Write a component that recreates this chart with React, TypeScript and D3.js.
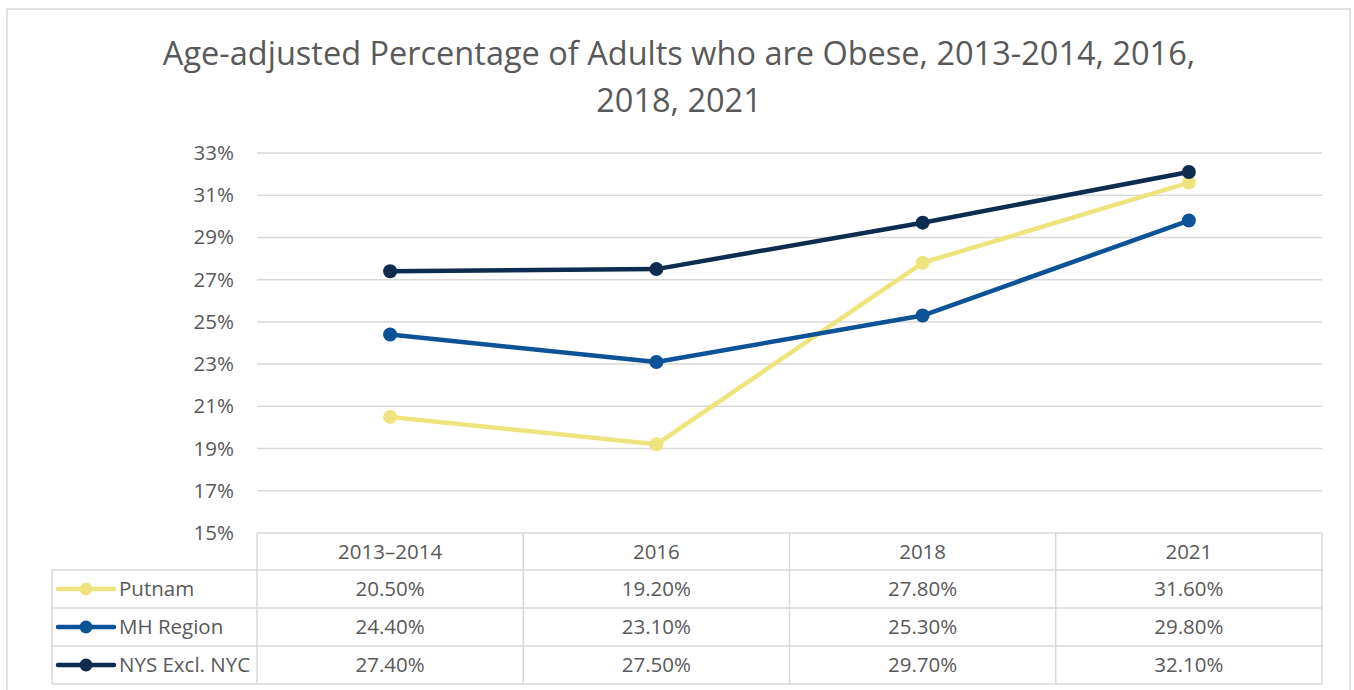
import React from "react";
import * as d3 from "d3";

const categories = ["2013–2014", "2016", "2018", "2021"];
const seriesNames = ["Putnam", "MH Region", "NYS Excl. NYC"];
const putnam = [20.5, 19.2, 27.8, 31.6];
const mhRegion = [24.4, 23.1, 25.3, 29.8];
const nysExclNyc = [27.4, 27.5, 29.7, 32.1];
const yTicks = [15, 17, 19, 21, 23, 25, 27, 29, 31, 33];
const colors = ["#EEE47E", "#0B5396", "#0E2C4F"];
const titleLines = [
  "Age-adjusted Percentage of Adults who are Obese, 2013-2014, 2016,",
  "2018, 2021",
];

const W = 1354;
const H = 690;
const FONT = "'Open Sans', sans-serif";
const TEXT = "#595959";
const GRID = "#D9D9D9";
const FS = 20.5;

export default function App() {
  const series = [putnam, mhRegion, nysExclNyc];
  const plotL = 257;
  const plotR = 1322;
  const plotT = 153;
  const plotB = 533;
  const x = d3.scaleBand<string>().domain(categories).range([plotL, plotR]);
  const cx = (c: string) => (x(c) as number) + x.bandwidth() / 2;
  const y = d3.scaleLinear().domain([15, 33]).range([plotB, plotT]);
  const line = d3
    .line<number>()
    .x((_, i) => cx(categories[i]))
    .y((d) => y(d));

  const headerB = 570;
  const rowH = 38;
  const legendL = 52;
  const fmt = d3.format(".2f");

  return (
    <svg
      width={W}
      height={H}
      style={{ position: "absolute", left: 0, top: 0, background: "#fff" }}
      fontFamily={FONT}
    >
      <rect x={7} y={9} width={1343} height={700} fill="#fff" stroke={GRID} strokeWidth={1.5} />
      {titleLines.map((t, i) => (
        <text key={i} x={679} y={65 + i * 47} textAnchor="middle" fontSize={32.5} fill={TEXT}>
          {t}
        </text>
      ))}
      {yTicks.map((t) => (
        <g key={t}>
          {t !== 15 && (
            <line x1={plotL} x2={plotR} y1={y(t)} y2={y(t)} stroke={GRID} strokeWidth={1.5} />
          )}
          <text x={234} y={y(t) + 7} textAnchor="end" fontSize={FS} fill={TEXT}>
            {t}%
          </text>
        </g>
      ))}
      <g stroke={GRID} strokeWidth={1.5} fill="none">
        <line x1={plotL} x2={plotR} y1={plotB} y2={plotB} />
        {[0, 1, 2, 3].map((r) => (
          <line key={r} x1={legendL} x2={plotR} y1={headerB + r * rowH} y2={headerB + r * rowH} />
        ))}
        <line x1={legendL} x2={legendL} y1={headerB} y2={headerB + 3 * rowH} />
        {categories.map((c) => (
          <line key={c} x1={x(c)} x2={x(c)} y1={plotB} y2={headerB + 3 * rowH} />
        ))}
        <line x1={plotR} x2={plotR} y1={plotB} y2={headerB + 3 * rowH} />
      </g>
      {categories.map((c) => (
        <text key={c} x={cx(c)} y={plotB + 26} textAnchor="middle" fontSize={FS} fill={TEXT}>
          {c}
        </text>
      ))}
      {series.map((s, si) => (
        <g key={si}>
          {s.map((v, i) => (
            <text
              key={i}
              x={cx(categories[i])}
              y={headerB + si * rowH + 26}
              textAnchor="middle"
              fontSize={FS}
              fill={TEXT}
            >
              {fmt(v)}%
            </text>
          ))}
          <line
            x1={58}
            x2={114}
            y1={headerB + si * rowH + 19}
            y2={headerB + si * rowH + 19}
            stroke={colors[si]}
            strokeWidth={4.5}
            strokeLinecap="round"
          />
          <circle cx={86} cy={headerB + si * rowH + 19} r={6.5} fill={colors[si]} />
          <text x={119} y={headerB + si * rowH + 26} fontSize={FS} fill={TEXT}>
            {seriesNames[si]}
          </text>
        </g>
      ))}
      {series.map((s, si) => (
        <g key={si}>
          <path d={line(s) || ""} fill="none" stroke={colors[si]} strokeWidth={4.5} strokeLinejoin="round" />
          {s.map((v, i) => (
            <circle key={i} cx={cx(categories[i])} cy={y(v)} r={7} fill={colors[si]} />
          ))}
        </g>
      ))}
    </svg>
  );
}
